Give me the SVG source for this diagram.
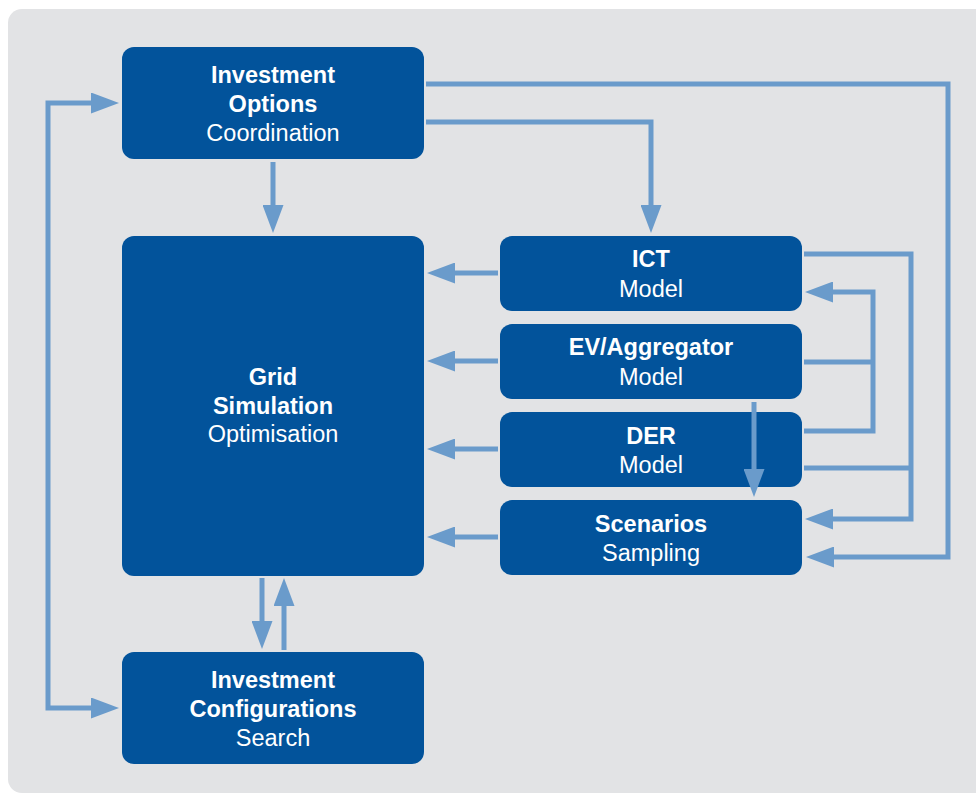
<svg xmlns="http://www.w3.org/2000/svg" width="976" height="794" viewBox="0 0 976 794">
  <defs>
    <style>
      .box { fill: #02539b; }
      .t1 { font-family: "Liberation Sans", Arial, sans-serif; font-weight: bold; font-size: 23.5px; fill: #ffffff; text-anchor: middle; }
      .t2 { font-family: "Liberation Sans", Arial, sans-serif; font-weight: normal; font-size: 23.5px; fill: #ffffff; text-anchor: middle; }
      .c { fill: none; stroke: #6a9bcb; stroke-width: 5; }
      .ca { fill: none; stroke: #6a9bcb; stroke-width: 5; marker-end: url(#ah); }
    </style>
    <marker id="ah" viewBox="0 0 28 21" refX="8" refY="10.5" markerWidth="28" markerHeight="21" markerUnits="userSpaceOnUse" orient="auto-start-reverse">
      <path d="M0 0 L28 10.5 L0 21 Z" fill="#6a9bcb"/>
    </marker>
  </defs>
  <rect x="0" y="0" width="976" height="794" fill="#ffffff"/>
  <rect x="8" y="9" width="990" height="784" rx="14" fill="#e2e3e5"/>

  <g id="investment-options">
    <rect class="box" x="122" y="47" width="302" height="112" rx="12"/>
    <text class="t1" x="273" y="83">Investment</text>
    <text class="t1" x="273" y="112">Options</text>
    <text class="t2" x="273" y="141">Coordination</text>
  </g>
  <g id="grid-simulation">
    <rect class="box" x="122" y="236" width="302" height="340" rx="12"/>
    <text class="t1" x="273" y="385">Grid</text>
    <text class="t1" x="273" y="414">Simulation</text>
    <text class="t2" x="273" y="442">Optimisation</text>
  </g>
  <g id="investment-configurations">
    <rect class="box" x="122" y="652" width="302" height="112" rx="12"/>
    <text class="t1" x="273" y="688">Investment</text>
    <text class="t1" x="273" y="717">Configurations</text>
    <text class="t2" x="273" y="746">Search</text>
  </g>
  <g id="ict-model">
    <rect class="box" x="500" y="236" width="302" height="75" rx="12"/>
    <text class="t1" x="651" y="267">ICT</text>
    <text class="t2" x="651" y="297">Model</text>
  </g>
  <g id="ev-aggregator-model">
    <rect class="box" x="500" y="324" width="302" height="75" rx="12"/>
    <text class="t1" x="651" y="355">EV/Aggregator</text>
    <text class="t2" x="651" y="385">Model</text>
  </g>
  <g id="der-model">
    <rect class="box" x="500" y="412" width="302" height="75" rx="12"/>
    <text class="t1" x="651" y="444">DER</text>
    <text class="t2" x="651" y="473">Model</text>
  </g>
  <g id="scenarios-sampling">
    <rect class="box" x="500" y="500" width="302" height="75" rx="12"/>
    <text class="t1" x="651" y="532">Scenarios</text>
    <text class="t2" x="651" y="561">Sampling</text>
  </g>

  <g id="connectors">
    <path class="ca" d="M426 84 H948 V557 H826"/>
    <path class="ca" d="M426 122 H651 V213"/>
    <path class="ca" d="M273 162 V213"/>
    <path class="ca" d="M99 103 H48 V708 H99" marker-start="url(#ah)"/>
    <path class="ca" d="M262 578 V629"/>
    <path class="ca" d="M284 650 V598"/>
    <path class="ca" d="M498 273 H447"/>
    <path class="ca" d="M498 361 H447"/>
    <path class="ca" d="M498 449 H447"/>
    <path class="ca" d="M498 537 H447"/>
    <path class="ca" d="M804 254 H911 V519 H825"/>
    <path class="c" d="M804 468 H911"/>
    <path class="ca" d="M804 431 H873 V292 H825"/>
    <path class="c" d="M804 362 H873"/>
    <path class="ca" d="M754 402 V477"/>
  </g>
</svg>
